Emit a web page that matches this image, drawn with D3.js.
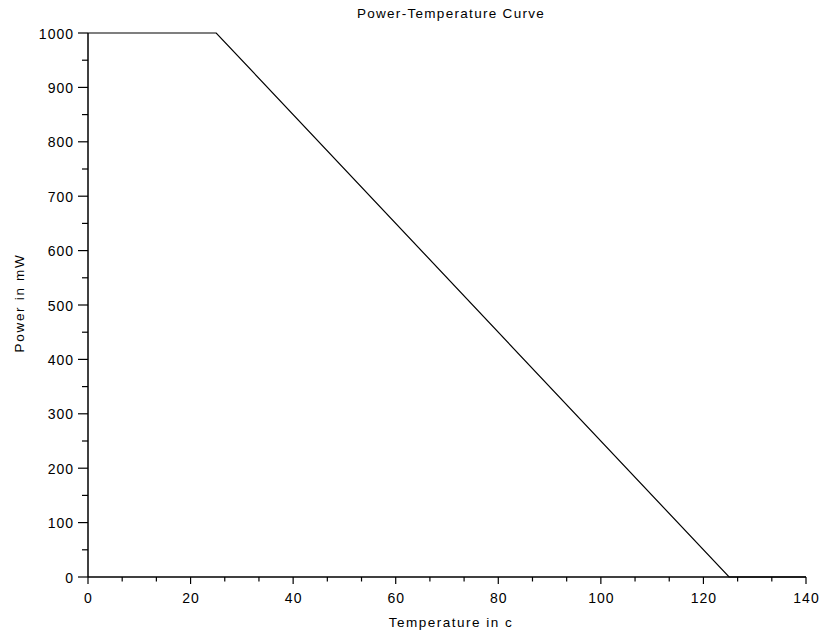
<!DOCTYPE html>
<html>
<head>
<meta charset="utf-8">
<script src="https://cdn.jsdelivr.net/npm/d3@7"></script>
<style>
  html, body { margin: 0; padding: 0; background: #fff; }
  svg { display: block; }
  text { font-family: "Liberation Sans", Arial, Helvetica, sans-serif; fill: #000; }
</style>
</head>
<body>
<svg id="chart" width="825" height="634"></svg>
<script>
// Data
const temperature = [0, 25, 125, 140];
const power = [1000, 1000, 0, 0];
const xTickValues = [0, 20, 40, 60, 80, 100, 120, 140];
const yTickValues = [0, 100, 200, 300, 400, 500, 600, 700, 800, 900, 1000];
const titleText = "Power-Temperature Curve";
const xLabelText = "Temperature in c";
const yLabelText = "Power in mW";

const svg = d3.select("#chart");
const x = d3.scaleLinear().domain([0, 140]).range([88, 806]);
const y = d3.scaleLinear().domain([0, 1000]).range([577, 33]);

// minor ticks
const xMinor = d3.range(0, 140, 20 / 3).filter(v => Math.abs(v / 20 - Math.round(v / 20)) > 1e-6);
const yMinor = d3.range(50, 1000, 100);

const axisColor = "#000";

// X axis
const gx = svg.append("g").attr("transform", `translate(0,${y(0)})`);
gx.append("line").attr("x1", x(0)).attr("x2", x(140)).attr("y1", 0).attr("y2", 0)
  .attr("stroke", axisColor).attr("stroke-width", 1.5);
gx.selectAll(".xminor").data(xMinor).enter().append("line")
  .attr("x1", d => x(d)).attr("x2", d => x(d)).attr("y1", 0).attr("y2", 4.5)
  .attr("stroke", axisColor).attr("stroke-width", 1.2);
gx.selectAll(".xmajor").data(xTickValues).enter().append("line")
  .attr("x1", d => x(d)).attr("x2", d => x(d)).attr("y1", 0).attr("y2", 7)
  .attr("stroke", axisColor).attr("stroke-width", 1.2);
gx.selectAll(".xlab").data(xTickValues).enter().append("text")
  .attr("x", d => x(d) + 0.5).attr("y", 26)
  .attr("text-anchor", "middle").attr("font-size", 14).attr("letter-spacing", 1)
  .text(d => d);

// Y axis
const gy = svg.append("g").attr("transform", `translate(${x(0)},0)`);
gy.append("line").attr("x1", 0).attr("x2", 0).attr("y1", y(0)).attr("y2", y(1000))
  .attr("stroke", axisColor).attr("stroke-width", 1.5);
gy.selectAll(".yminor").data(yMinor).enter().append("line")
  .attr("x1", -6).attr("x2", 0).attr("y1", d => y(d)).attr("y2", d => y(d))
  .attr("stroke", axisColor).attr("stroke-width", 1.2);
gy.selectAll(".ymajor").data(yTickValues).enter().append("line")
  .attr("x1", -10).attr("x2", 0).attr("y1", d => y(d)).attr("y2", d => y(d))
  .attr("stroke", axisColor).attr("stroke-width", 1.2);
gy.selectAll(".ylab").data(yTickValues).enter().append("text")
  .attr("x", -14).attr("y", d => y(d) + 5.5)
  .attr("text-anchor", "end").attr("font-size", 14).attr("letter-spacing", 1)
  .text(d => d);

// Data line
const line = d3.line().x((d, i) => x(temperature[i])).y(d => y(d));
svg.append("path").datum(power).attr("d", line)
  .attr("fill", "none").attr("stroke", "#000").attr("stroke-width", 1.2);

// Title and labels
svg.append("text").attr("x", 451).attr("y", 18)
  .attr("text-anchor", "middle").attr("font-size", 13.5).attr("letter-spacing", 1.3)
  .text(titleText);
svg.append("text").attr("x", 451).attr("y", 627)
  .attr("text-anchor", "middle").attr("font-size", 13.5).attr("letter-spacing", 1.5)
  .text(xLabelText);
svg.append("text").attr("transform", "translate(24,303) rotate(-90)")
  .attr("text-anchor", "middle").attr("font-size", 13.5).attr("letter-spacing", 1.7)
  .text(yLabelText);
</script>
</body>
</html>
